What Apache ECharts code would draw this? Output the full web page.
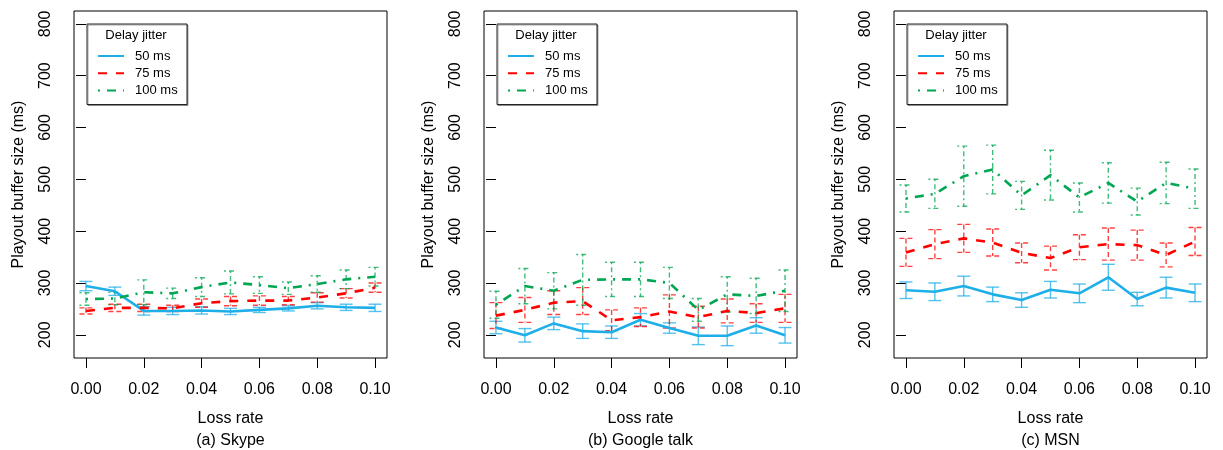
<!DOCTYPE html>
<html>
<head>
<meta charset="utf-8">
<script src="https://cdn.jsdelivr.net/npm/echarts@6/dist/echarts.min.js"></script>
<style>
  html, body { margin: 0; padding: 0; background: #fff; }
  #chart { width: 1223px; height: 450px; }
</style>
</head>
<body>
<div id="chart"></div>
<script>
// loss rate on the x axis
var lossRate = [0.00, 0.01, 0.02, 0.03, 0.04, 0.05, 0.06, 0.07, 0.08, 0.09, 0.10];
var xTicks = [0, 0.02, 0.04, 0.06, 0.08, 0.10];
var yTicks = [200, 300, 400, 500, 600, 700, 800];
var jitterNames = ['50 ms', '75 ms', '100 ms'];
var panelTitles = ['(a) Skype', '(b) Google talk', '(c) MSN'];

// (a) Skype
var skype50 = [294, 284, 246, 246, 247, 245, 248, 251, 256, 253, 252];
var skype50Err = [9, 8, 8, 7, 7, 6, 5, 5, 6, 6, 7];
var skype75 = [246, 252, 252, 251, 261, 265, 266, 266, 272, 280, 291];
var skype75Err = [6, 7, 7, 6, 8, 9, 9, 8, 9, 9, 9];
var skype100 = [269, 270, 282, 280, 292, 301, 296, 290, 298, 307, 312];
var skype100Err = [12, 12, 24, 10, 18, 22, 16, 12, 16, 18, 18];

// (b) Google talk
var gtalk50 = [214, 199, 222, 207, 205, 229, 213, 198, 198, 218, 199];
var gtalk50Err = [12, 13, 12, 14, 12, 12, 10, 17, 19, 15, 15];
var gtalk75 = [237, 248, 262, 265, 228, 234, 245, 234, 246, 242, 251];
var gtalk75Err = [25, 24, 23, 26, 20, 18, 32, 21, 23, 18, 27];
var gtalk100 = [258, 294, 285, 306, 307, 307, 300, 248, 278, 275, 285];
var gtalk100Err = [26, 34, 35, 49, 33, 33, 30, 22, 34, 34, 40];

// (c) MSN
var msn50 = [286, 283, 294, 278, 267, 287, 280, 311, 269, 291, 281];
var msn50Err = [16, 17, 19, 14, 14, 16, 18, 25, 13, 20, 17];
var msn75 = [359, 375, 386, 378, 358, 348, 369, 375, 373, 354, 380];
var msn75Err = [27, 28, 27, 26, 19, 23, 24, 31, 29, 23, 27];
var msn100 = [463, 472, 506, 519, 469, 508, 465, 493, 457, 493, 482];
var msn100Err = [26, 28, 58, 47, 27, 48, 28, 39, 26, 40, 38];

var panels = [
  { lines: [skype50, skype75, skype100], errs: [skype50Err, skype75Err, skype100Err] },
  { lines: [gtalk50, gtalk75, gtalk100], errs: [gtalk50Err, gtalk75Err, gtalk100Err] },
  { lines: [msn50, msn75, msn100], errs: [msn50Err, msn75Err, msn100Err] }
];

var FONT = 'Liberation Sans';
var colors = ['#1eaee8', '#ff0000', '#00a651'];
var lineDash = ['solid', [9, 9], [2, 7, 9, 7]];
var barDash = [null, [5, 3], [2, 3, 5, 3]];
var gridLefts = [74, 484, 894];
var gridW = 313, gridTop = 11, gridH = 347;

function errorBarItem(color, dash) {
  return function (params, api) {
    var x = api.value(0);
    var lo = api.coord([x, api.value(1)]);
    var hi = api.coord([x, api.value(2)]);
    var w = 6.5;
    function st() {
      return { stroke: color, lineWidth: 1.4, lineDash: dash, opacity: 0.75 };
    }
    return {
      type: 'group',
      children: [
        { type: 'line', shape: { x1: hi[0], y1: hi[1], x2: lo[0], y2: lo[1] }, style: st() },
        { type: 'line', shape: { x1: hi[0] - w, y1: hi[1], x2: hi[0] + w, y2: hi[1] }, style: st() },
        { type: 'line', shape: { x1: lo[0] - w, y1: lo[1], x2: lo[0] + w, y2: lo[1] }, style: st() }
      ]
    };
  };
}

var grids = [], xAxes = [], yAxes = [], series = [], legends = [], titles = [], graphics = [];

panels.forEach(function (p, i) {
  var left = gridLefts[i];
  grids.push({
    left: left, top: gridTop, width: gridW, height: gridH,
    show: true, borderColor: '#000', borderWidth: 1, backgroundColor: 'transparent'
  });
  xAxes.push({
    type: 'value', gridIndex: i, min: -0.00414, max: 0.10414,
    axisLine: { show: false },
    splitLine: { show: false },
    axisTick: { show: true, length: 10, customValues: xTicks, lineStyle: { color: '#000' } },
    axisLabel: {
      customValues: xTicks, margin: 24, fontSize: 16, color: '#000', fontFamily: FONT,
      formatter: function (v) { return v.toFixed(2); }
    },
    name: 'Loss rate', nameLocation: 'middle', nameGap: 53,
    nameTextStyle: { fontSize: 16, color: '#000', fontFamily: FONT }
  });
  yAxes.push({
    type: 'value', gridIndex: i, min: 155.2, max: 824.8,
    axisLine: { show: false },
    splitLine: { show: false },
    axisTick: { show: true, length: 10, customValues: yTicks, lineStyle: { color: '#000' } },
    axisLabel: { customValues: yTicks, rotate: 90, margin: 20, fontSize: 16, color: '#000', fontFamily: FONT },
    name: 'Playout buffer size (ms)', nameLocation: 'middle', nameGap: 47, nameRotate: 90,
    nameTextStyle: { fontSize: 16, color: '#000', fontFamily: FONT }
  });

  p.lines.forEach(function (vals, k) {
    series.push({
      name: jitterNames[k], type: 'line', xAxisIndex: i, yAxisIndex: i,
      data: lossRate.map(function (x, j) { return [x, vals[j]]; }),
      symbol: 'none', z: 3,
      lineStyle: { color: colors[k], width: 2.6, type: lineDash[k] },
      itemStyle: { color: colors[k] }
    });
    var errs = p.errs[k];
    series.push({
      name: jitterNames[k] + ' err', type: 'custom', xAxisIndex: i, yAxisIndex: i,
      data: lossRate.map(function (x, j) { return [x, vals[j] - errs[j], vals[j] + errs[j]]; }),
      encode: { x: 0, y: [1, 2] }, z: 2,
      renderItem: errorBarItem(colors[k], barDash[k])
    });
  });

  legends.push({
    data: jitterNames, orient: 'vertical', left: left + 23, top: 49.5, padding: 0,
    itemWidth: 26, itemHeight: 14, itemGap: 4.3, selectedMode: false,
    itemStyle: { color: 'rgba(0,0,0,0)', borderColor: 'rgba(0,0,0,0)', borderWidth: 0 },
    textStyle: { fontSize: 13, color: '#000', fontFamily: FONT, padding: [0, 0, 0, 6] }
  });
  graphics.push({
    type: 'rect', left: left + 12.5, top: 23.5, z: 1,
    shape: { width: 100, height: 80.5 },
    style: { fill: '#fff', stroke: '#222', lineWidth: 1, shadowColor: 'rgba(0,0,0,0.35)', shadowOffsetX: 1, shadowOffsetY: 1 }
  });
  graphics.push({
    type: 'text', x: left + 62, y: 35, z: 2,
    style: { text: 'Delay jitter', fill: '#000', font: '13px "' + FONT + '"', textAlign: 'center', textVerticalAlign: 'middle' }
  });
  titles.push({
    text: panelTitles[i], left: left + gridW / 2, top: 433, textAlign: 'center', padding: 0,
    textStyle: { fontSize: 16, fontWeight: 'normal', color: '#000', fontFamily: FONT }
  });
});

var chart = echarts.init(document.getElementById('chart'));
chart.setOption({
  animation: false,
  backgroundColor: '#fff',
  title: titles,
  grid: grids,
  xAxis: xAxes,
  yAxis: yAxes,
  legend: legends,
  graphic: graphics,
  series: series
});
</script>
</body>
</html>
